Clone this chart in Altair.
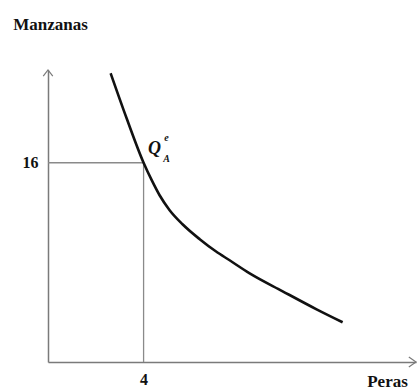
import altair as alt
import pandas as pd

# Indifference-style curve: pears (x) vs apples (y)
curve_x = [2.62, 3.29, 4.00, 4.34, 4.67, 5.09, 5.63, 6.35, 7.02, 7.60,
           8.44, 9.82, 11.24, 12.33]
curve_y = [23.19, 19.57, 16.0, 14.6, 13.39, 12.19, 11.06, 9.86, 8.89, 8.17,
           7.12, 5.68, 4.23, 3.19]

# Highlighted bundle Q_A^e
point_x = [4]
point_y = [16]

x_max = 15.4
y_max = 23.45

x_title = "Peras"
y_title = "Manzanas"

serif = "Liberation Serif"
axis_gray = "#7a7a7a"

curve_df = pd.DataFrame({"x": curve_x, "y": curve_y})
pt_df = pd.DataFrame({"x": point_x, "y": point_y, "x0": [0] * len(point_x),
                      "y0": [0] * len(point_y)})

xs = alt.Scale(domain=[0, x_max], nice=False, zero=True)
ys = alt.Scale(domain=[0, y_max], nice=False, zero=True)

x_axis = alt.Axis(values=point_x, labelFont=serif, labelFontWeight="bold",
                  labelFontSize=16, labelColor="#111", labelPadding=9,
                  ticks=False, grid=False, domainColor=axis_gray, domainWidth=1.5,
                  title=x_title, titleFont=serif, titleFontWeight="bold",
                  titleFontSize=17, titleColor="#111", titleX=339, titleY=24,
                  titleAlign="center", titleBaseline="alphabetic")
y_axis = alt.Axis(values=point_y, labelFont=serif, labelFontWeight="bold",
                  labelFontSize=16, labelColor="#111", labelPadding=10,
                  ticks=False, grid=False, domainColor=axis_gray, domainWidth=1.5,
                  title=y_title, titleFont=serif, titleFontWeight="bold",
                  titleFontSize=17, titleColor="#111", titleAngle=0,
                  titleX=2, titleY=-46, titleAlign="center",
                  titleBaseline="middle")

X = lambda f: alt.X(f, scale=xs)
Y = lambda f: alt.Y(f, scale=ys)

axes = alt.Chart(curve_df).mark_point(opacity=0).encode(
    x=alt.X("x:Q", scale=xs, axis=x_axis),
    y=alt.Y("y:Q", scale=ys, axis=y_axis),
)

# Guide lines from the axes to the highlighted bundle
guide_h = alt.Chart(pt_df).mark_rule(color="#8a8a8a", strokeWidth=1.3).encode(
    x=X("x0:Q"), x2="x:Q", y=Y("y:Q"))
guide_v = alt.Chart(pt_df).mark_rule(color="#8a8a8a", strokeWidth=1.3).encode(
    x=X("x:Q"), y=Y("y0:Q"), y2="y:Q")

curve = alt.Chart(curve_df).mark_line(
    color="#111", strokeWidth=2.6, interpolate="monotone").encode(
    x=X("x:Q"), y=Y("y:Q"))

# Open arrowheads at the ends of both axes
ax_dx, ax_dy = 0.2, 0.5
arrow_df = pd.DataFrame({
    "x": [-ax_dx, 0, ax_dx, x_max - 0.3, x_max, x_max - 0.3],
    "y": [y_max - ax_dy, y_max, y_max - ax_dy, 0.4, 0, -0.4],
    "g": ["y", "y", "y", "x", "x", "x"],
    "o": [0, 1, 2, 0, 1, 2],
})
arrows = alt.Chart(arrow_df).mark_line(
    color=axis_gray, strokeWidth=1.2, clip=False).encode(
    x=X("x:Q"), y=Y("y:Q"), detail="g:N", order="o:Q")

def q_label(txt, size, dx, dy):
    return alt.Chart(pt_df).mark_text(
        text=txt, font=serif, fontStyle="italic", fontWeight="bold",
        fontSize=size, dx=dx, dy=dy, color="#111").encode(
        x=X("x:Q"), y=Y("y:Q"))

label_q = q_label("Q", 18, 11, -14)
label_sub = q_label("A", 10, 23, -4)
label_sup = q_label("e", 10, 23, -25)

chart = alt.layer(
    axes, guide_h, guide_v, curve, arrows, label_q, label_sub, label_sup
).properties(
    width=368, height=292,
    autosize=alt.AutoSizeParams(type="none"),
    padding={"left": 48, "top": 70, "right": 3, "bottom": 28},
    background="white",
).configure_view(stroke=None)

chart.save("out.html", embed_options={"renderer": "svg", "actions": False})
